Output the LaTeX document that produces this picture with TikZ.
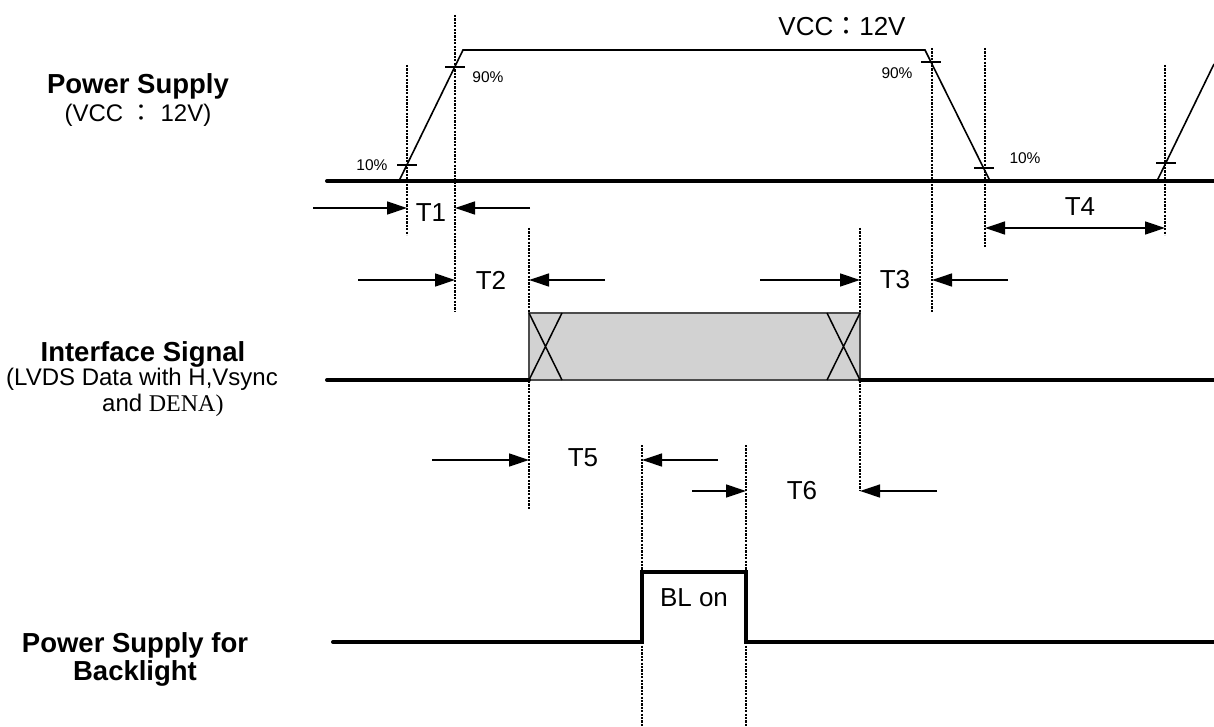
\documentclass[tikz,border=0pt]{standalone}
\usepackage{fontspec}
\setmainfont{Liberation Sans}
\newfontfamily\cjk{Noto Sans CJK TC}
\newfontfamily\serifdena{Liberation Serif}
\usetikzlibrary{arrows.meta}
\tikzset{
  % garis sinyal tebal
  sig/.style={line width=4pt, line cap=round, line join=miter},
  % tepi naik/turun tipis
  ramp/.style={line width=1.6pt},
  % garis bantu vertikal titik-titik
  guide/.style={line width=2.4pt, dash pattern=on 2.2pt off 1.2pt},
  tick/.style={line width=1.3pt},
  meas/.style={line width=1.3pt, -{Triangle[length=20pt,width=13pt]}},
  meas2/.style={line width=1.3pt, {Triangle[length=20pt,width=13pt]}-{Triangle[length=20pt,width=13pt]}},
  tlabel/.style={font=\fontsize{26}{30}\selectfont, inner sep=0pt},
  pct/.style={font=\fontsize{15.5}{18}\selectfont, inner sep=0pt},
  rowtitle/.style={align=center, inner sep=0pt, font=\fontsize{27.5}{28}\selectfont\bfseries},
  rowsub/.style={inner sep=0pt, font=\fontsize{24}{26}\selectfont},
}
\begin{document}
\begin{tikzpicture}[x=1pt, y=-1pt]
\useasboundingbox (0,0) rectangle (1214,727);

% =================== GARIS BANTU ===================
\foreach \n/\x/\ya/\yb in {A/407/65/235, B/455/15/312, C/529/228/510, D/860/228/490,
                           E/932/48/313, F/985/48/248, G/1165/65/235,
                           H/642/445/727, I/746/445/727} {
  \coordinate (g\n1) at (\x,\ya);
  \coordinate (g\n2) at (\x,\yb);
  \draw[guide] (g\n1) -- (g\n2);
}

% =================== POWER SUPPLY ===================
\coordinate (psL) at (327,181);
\coordinate (psR) at (1214,181);
\coordinate (r1a) at (399,181);
\coordinate (r1b) at (463,50);
\coordinate (f1a) at (925,50);
\coordinate (f1b) at (990,181);
\coordinate (r2a) at (1157,181);
\coordinate (r2b) at (1214,64);
\draw[sig] (psL) -- (psR);
\draw[ramp] (r1a) -- (r1b) -- (f1a) -- (f1b);
\draw[ramp] (r2a) -- (r2b);
\foreach \x/\y in {407/165, 455/67, 931/62, 984/168, 1166/163}
  \draw[tick] (\x-10,\y) -- (\x+10,\y);

\node[tlabel] (vcc) at (842,27) {VCC{\cjk ：}12V};
\node[pct] (p10a) at (372,165) {10\%};
\node[pct] (p90a) at (488,77) {90\%};
\node[pct] (p90b) at (897,73) {90\%};
\node[pct] (p10b) at (1025,158) {10\%};

% =================== INTERFACE SIGNAL ===================
\coordinate (ifL) at (327,380);
\coordinate (ifR) at (1214,380);
\coordinate (boxa) at (529,313);
\coordinate (boxb) at (860,380);
\draw[fill=gray!35, draw=black!70, line width=1.2pt] (boxa) rectangle (boxb);
\draw[line width=1.5pt] (529,313) -- (562,380) (529,380) -- (562,313);
\draw[line width=1.5pt] (827,313) -- (860,380) (827,380) -- (860,313);
\draw[sig] (ifL) -- (boxa |- ifL);
\draw[sig] (boxb) -- (ifR);

% =================== BACKLIGHT ===================
\coordinate (blL) at (333,642);
\coordinate (blR) at (1214,642);
\draw[sig] (blL) -- (642,642) -- (642,572) -- (746,572) -- (746,642) -- (blR);
\node[tlabel] (blon) at (694,598) {BL on};

% =================== PANAH WAKTU ===================
\coordinate (t1l) at (313,208);  \coordinate (t1r) at (530,208);
\coordinate (t2l) at (358,280);  \coordinate (t2r) at (605,280);
\coordinate (t3l) at (760,280);  \coordinate (t3r) at (1008,280);
\coordinate (t4l) at (985,228);
\coordinate (t5l) at (432,460);  \coordinate (t5r) at (718,460);
\coordinate (t6l) at (692,491);  \coordinate (t6r) at (937,491);

\draw[meas] (t1l) -- (gA1 |- t1l);
\draw[meas] (t1r) -- (gB1 |- t1r);
\draw[meas] (t2l) -- (gB1 |- t2l);
\draw[meas] (t2r) -- (gC1 |- t2r);
\draw[meas] (t3l) -- (gD1 |- t3l);
\draw[meas] (t3r) -- (gE1 |- t3r);
\draw[meas2] (t4l) -- (gG1 |- t4l);
\draw[meas] (t5l) -- (gC1 |- t5l);
\draw[meas] (t5r) -- (gH1 |- t5r);
\draw[meas] (t6l) -- (gI1 |- t6l);
\draw[meas] (t6r) -- (gD1 |- t6r);

\node[tlabel] (lt1) at (431,213) {T1};
\node[tlabel] (lt2) at (491,280) {T2};
\node[tlabel] (lt3) at (895,280) {T3};
\node[tlabel] (lt4) at (1080,207) {T4};
\node[tlabel] (lt5) at (583,458) {T5};
\node[tlabel] (lt6) at (802,491) {T6};

% =================== LABEL BARIS ===================
\node[rowtitle] (lps) at (138,86) {Power Supply};
\node[rowsub] (lpssub) at (138,115) {(VCC {\cjk ：} 12V)};
\node[rowtitle] (lif) at (143,354) {Interface Signal};
\node[rowsub, align=left, anchor=north west] (lifsub) at (6,368)
  {(LVDS Data with H,Vsync\\\hspace*{4.0em}and {\serifdena DENA)}};
\node[rowtitle] (lbl) at (135,659) {Power Supply for\\Backlight};

\end{tikzpicture}
\end{document}
